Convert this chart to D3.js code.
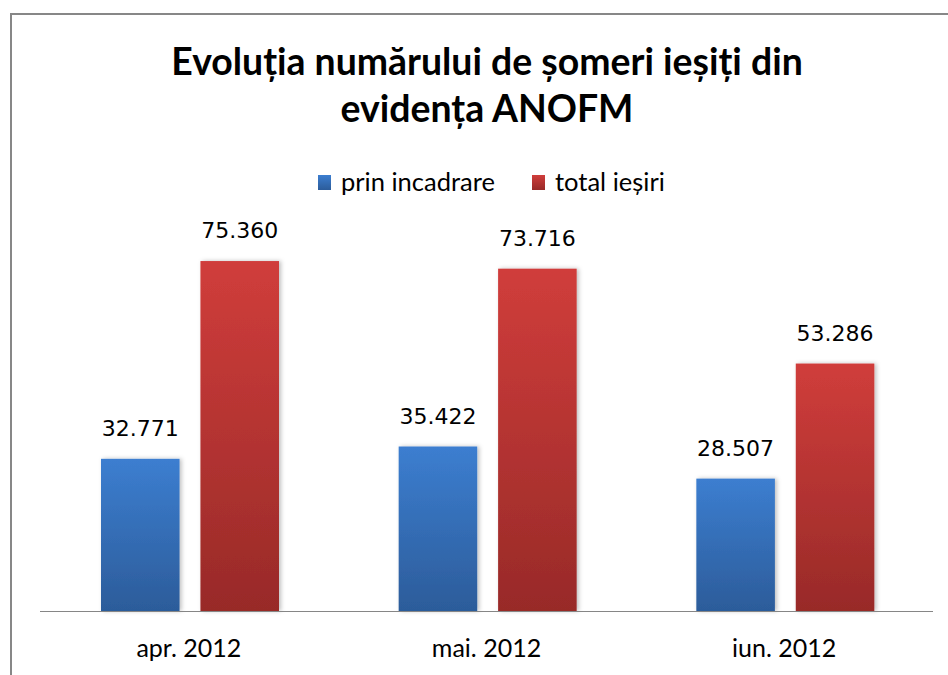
<!DOCTYPE html>
<html>
<head>
<meta charset="utf-8">
<script src="https://cdn.jsdelivr.net/npm/d3@7"></script>
<style>
  body { margin: 0; background: #fff; }
  svg { display: block; }
</style>
</head>
<body>
<script>

// chart data
var months = ['apr. 2012', 'mai. 2012', 'iun. 2012'];
var seriesNames = ['prin incadrare', 'total ieșiri'];
var prinIncadrare = [32771, 35422, 28507];
var totalIesiri = [75360, 73716, 53286];
var titleLines = ['Evoluția numărului de șomeri ieșiți din', 'evidența ANOFM'];

var W = 948, H = 675;
var BASE = 611, TOP = 239.5;
var LEFT = 40, RIGHT = 933;

var colors = {
	'prin incadrare': ['#3c7ed0', '#2c5c9a'],
	'total ieșiri': ['#d03d3b', '#982a28']
};

// rows for the grouped bars
var rows = months.map(function(m, i) {
	return { month: m, values: [
		{ key: seriesNames[0], value: prinIncadrare[i] },
		{ key: seriesNames[1], value: totalIesiri[i] }
	]};
});

var fmt = d3.formatLocale({ decimal: ',', thousands: '.', grouping: [3], currency: ['', ''] }).format(',d');

var svg = d3.select('body').append('svg')
	.attr('width', W)
	.attr('height', H);

var defs = svg.append('defs');

// vertical gradients, lighter at the top
seriesNames.forEach(function(s, i) {
	var g = defs.append('linearGradient')
		.attr('id', 'grad' + i)
		.attr('x1', 0).attr('y1', 0).attr('x2', 0).attr('y2', 1);
	g.append('stop').attr('offset', '0%').attr('stop-color', colors[s][0]);
	g.append('stop').attr('offset', '100%').attr('stop-color', colors[s][1]);
});

// soft shadow on the bars
var f = defs.append('filter').attr('id', 'shadow')
	.attr('x', '-20%').attr('y', '-5%').attr('width', '140%').attr('height', '110%');
f.append('feDropShadow')
	.attr('dx', 2).attr('dy', 0).attr('stdDeviation', 2)
	.attr('flood-color', '#000').attr('flood-opacity', 0.25);

// frame (only left and top edges show)
svg.append('path')
	.attr('d', 'M11,' + H + ' L11,14 L' + W + ',14')
	.attr('fill', 'none')
	.attr('stroke', '#878787')
	.attr('stroke-width', 2);

// ------------------------ TITLE ------------------------
svg.selectAll('.title')
	.data(titleLines)
	.enter()
	.append('text')
	.attr('class', 'title')
	.attr('x', 487)
	.attr('y', function(d, i) { return 75 + i * 47; })
	.attr('text-anchor', 'middle')
	.attr('font-family', 'Lato')
	.attr('font-weight', 'bold')
	.attr('font-size', '37.4px')
	.attr('fill', '#000')
	.text(function(d) { return d; });

// ------------------------ LEGEND ------------------------
var legendX = [318, 532];
var legend = svg.selectAll('.legend')
	.data(seriesNames)
	.enter()
	.append('g')
	.attr('class', 'legend')
	.attr('transform', function(d, i) { return 'translate(' + legendX[i] + ',175)'; });

legend.append('rect')
	.attr('width', 13).attr('height', 15)
	.attr('fill', function(d, i) { return 'url(#grad' + i + ')'; });

legend.append('text')
	.attr('x', 23)
	.attr('y', 16)
	.attr('font-family', 'Lato')
	.attr('font-size', '25.5px')
	.attr('fill', '#000')
	.text(function(d) { return d; });

// ------------------------ SCALES ------------------------
var x0 = d3.scaleBand().domain(months).range([LEFT, RIGHT]);
var x1 = d3.scaleBand().domain(seriesNames).range([61, 239]).paddingInner(0.21);
var y = d3.scaleLinear().domain([0, 80000]).range([BASE, TOP]);

// ------------------------ BARS ------------------------
var groups = svg.selectAll('.group')
	.data(rows)
	.enter()
	.append('g')
	.attr('class', 'group')
	.attr('transform', function(d) { return 'translate(' + x0(d.month) + ',0)'; });

groups.selectAll('rect')
	.data(function(d) { return d.values; })
	.enter()
	.append('rect')
	.attr('x', function(d) { return x1(d.key); })
	.attr('y', function(d) { return y(d.value); })
	.attr('width', x1.bandwidth())
	.attr('height', function(d) { return BASE - y(d.value); })
	.attr('fill', function(d, i) { return 'url(#grad' + i + ')'; })
	.attr('filter', 'url(#shadow)');

// value labels above each bar
groups.selectAll('.val')
	.data(function(d) { return d.values; })
	.enter()
	.append('text')
	.attr('class', 'val')
	.attr('x', function(d) { return x1(d.key) + x1.bandwidth() / 2; })
	.attr('y', function(d) { return y(d.value) - 23; })
	.attr('text-anchor', 'middle')
	.attr('font-family', 'DejaVu Sans')
	.attr('font-size', '22px')
	.attr('fill', '#000')
	.text(function(d) { return fmt(d.value); });

// ------------------------ X AXIS ------------------------
var xAxis = svg.append('g')
	.attr('transform', 'translate(0,' + BASE + ')')
	.call(d3.axisBottom(x0).tickSize(0).tickPadding(0));

xAxis.select('.domain').attr('stroke', '#868686').attr('d', 'M' + LEFT + ',0.5H' + RIGHT);
xAxis.selectAll('text')
	.attr('dy', 0)
	.attr('y', 46)
	.attr('font-family', 'Lato')
	.attr('font-size', '25px')
	.attr('fill', '#000');

</script>
</body>
</html>
